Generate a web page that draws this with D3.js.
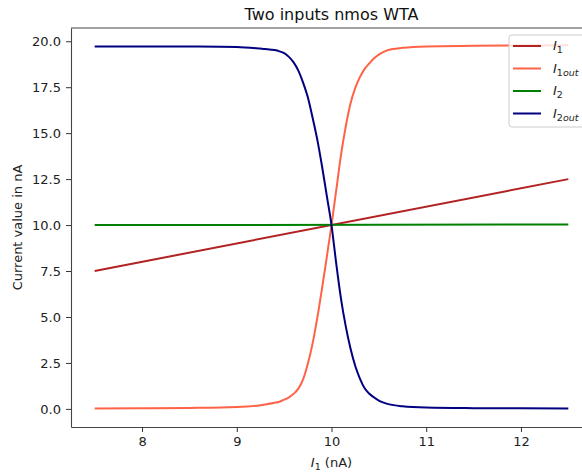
<!DOCTYPE html>
<html>
<head>
<meta charset="utf-8">
<script src="https://cdn.jsdelivr.net/npm/d3@7"></script>
<style>
  body { margin: 0; background: #fff; }
  svg { display: block; font-family: "DejaVu Sans", sans-serif; }
</style>
</head>
<body>
<div id="chart"></div>
<script>
// 1: DATA
const i1X = [7.5, 12.5];
const i1Vals = [7.5, 12.5];
const i2X = [7.5, 12.5];
const i2Vals = [10.0, 10.03];

const outX = [7.5, 8.0, 8.5, 9.0, 9.25, 9.3, 9.4, 9.45, 9.5, 9.55, 9.6, 9.65, 9.7, 9.75, 9.8, 9.85, 9.9, 9.95,
  10.0, 10.05, 10.1, 10.15, 10.2, 10.25, 10.3, 10.35, 10.4, 10.45, 10.5, 10.55, 10.6, 10.75, 11.0, 11.5, 12.0, 12.5];
const i1outVals = [0.02, 0.03, 0.05, 0.1, 0.2, 0.24, 0.33, 0.39, 0.5, 0.63, 0.82, 1.1, 1.6, 2.45, 3.55, 4.95, 6.55, 8.25,
  10.0, 11.9, 13.8, 15.35, 16.6, 17.45, 18.05, 18.5, 18.8, 19.07, 19.27, 19.42, 19.52, 19.64, 19.72, 19.75, 19.77, 19.78];
const i2outVals = [19.72, 19.72, 19.71, 19.68, 19.6, 19.58, 19.52, 19.45, 19.35, 19.15, 18.85, 18.4, 17.75, 16.95, 15.85, 14.65, 13.2, 11.6,
  10.0, 7.9, 6.0, 4.5, 3.3, 2.35, 1.65, 1.12, 0.82, 0.62, 0.45, 0.34, 0.26, 0.14, 0.07, 0.04, 0.03, 0.02];

const xTicks = [8, 9, 10, 11, 12];
const yTicks = [0, 2.5, 5, 7.5, 10, 12.5, 15, 17.5, 20];

const series = [
  { name: "I", sub: "1", subItalic: "", xs: i1X, ys: i1Vals, color: "#b22222" },
  { name: "I", sub: "1", subItalic: "out", xs: outX, ys: i1outVals, color: "#ff6347" },
  { name: "I", sub: "2", subItalic: "", xs: i2X, ys: i2Vals, color: "#008000" },
  { name: "I", sub: "2", subItalic: "out", xs: outX, ys: i2outVals, color: "#000080" }
];

// 2: LAYOUT
const W = 582, H = 474;
const margin = { top: 28, right: -10, bottom: 47, left: 71 };
const width = W - margin.left - margin.right;
const height = H - margin.top - margin.bottom;

const svg = d3.select("#chart").append("svg")
  .attr("width", W)
  .attr("height", H);

const g = svg.append("g")
  .attr("transform", `translate(${margin.left},${margin.top})`);

const x = d3.scaleLinear().domain([7.25, 12.75]).range([0, width]);
const y = d3.scaleLinear().domain([-0.985, 20.72]).range([height, 0]);

// 3: LINES
const line = d3.line()
  .x(d => x(d[0]))
  .y(d => y(d[1]))
  .curve(d3.curveMonotoneX);

series.forEach(s => {
  g.append("path")
    .datum(s.xs.map((v, i) => [v, s.ys[i]]))
    .attr("fill", "none")
    .attr("stroke", s.color)
    .attr("stroke-width", 2)
    .attr("d", line);
});

// 4: AXES
const xAxis = g.append("g")
  .attr("transform", `translate(0,${height})`)
  .call(d3.axisBottom(x).tickValues(xTicks).tickFormat(d3.format("d"))
    .tickSize(5).tickSizeOuter(0).tickPadding(5));

const yAxis = g.append("g")
  .call(d3.axisLeft(y).tickValues(yTicks).tickFormat(d3.format(".1f"))
    .tickSize(5).tickSizeOuter(0).tickPadding(5));

[xAxis, yAxis].forEach(a => {
  a.select(".domain").attr("stroke", "#444").attr("stroke-width", 1.1);
  a.selectAll(".tick line").attr("stroke", "#333").attr("stroke-width", 1);
  a.selectAll(".tick text").attr("fill", "#222").style("font-size", "13px")
    .style("font-family", "DejaVu Sans");
});

// top and right spines
g.append("line").attr("x1", 0).attr("x2", width).attr("y1", 0).attr("y2", 0)
  .attr("stroke", "#444").attr("stroke-width", 1.1);
g.append("line").attr("x1", width).attr("x2", width).attr("y1", 0).attr("y2", height)
  .attr("stroke", "#444").attr("stroke-width", 1.1);

// 5: TITLES
svg.append("text")
  .attr("x", margin.left + x(10))
  .attr("y", 20)
  .attr("text-anchor", "middle")
  .style("font-size", "16px")
  .attr("fill", "#111")
  .text("Two inputs nmos WTA");

const xl = svg.append("text")
  .attr("x", margin.left + x(10))
  .attr("y", 467)
  .attr("text-anchor", "middle")
  .style("font-size", "13px")
  .attr("fill", "#222");
xl.append("tspan").style("font-style", "italic").text("I");
xl.append("tspan").attr("dy", 3).style("font-size", "9.5px").text("1");
xl.append("tspan").attr("dy", -3).text(" (nA)");

svg.append("text")
  .attr("transform", `translate(22,${margin.top + height / 2}) rotate(-90)`)
  .attr("text-anchor", "middle")
  .style("font-size", "13px")
  .attr("fill", "#222")
  .text("Current value in nA");

// 6: LEGEND
const legend = svg.append("g").attr("transform", "translate(509,35)");
legend.append("rect")
  .attr("x", 0).attr("y", 0)
  .attr("width", 80).attr("height", 92)
  .attr("rx", 3)
  .attr("fill", "rgba(255,255,255,0.8)")
  .attr("stroke", "#ccc")
  .attr("stroke-width", 1);

series.forEach((s, i) => {
  const yy = 11 + i * 22.5;
  legend.append("line")
    .attr("x1", 4).attr("x2", 32)
    .attr("y1", yy).attr("y2", yy)
    .attr("stroke", s.color)
    .attr("stroke-width", 2);
  const t = legend.append("text")
    .attr("x", 44).attr("y", yy + 4)
    .style("font-size", "13px")
    .attr("fill", "#222");
  t.append("tspan").style("font-style", "italic").text(s.name);
  t.append("tspan").attr("dy", 3).style("font-size", "9.5px").text(s.sub);
  if (s.subItalic) {
    t.append("tspan").style("font-size", "9.5px").style("font-style", "italic").text(s.subItalic);
  }
});
</script>
</body>
</html>
